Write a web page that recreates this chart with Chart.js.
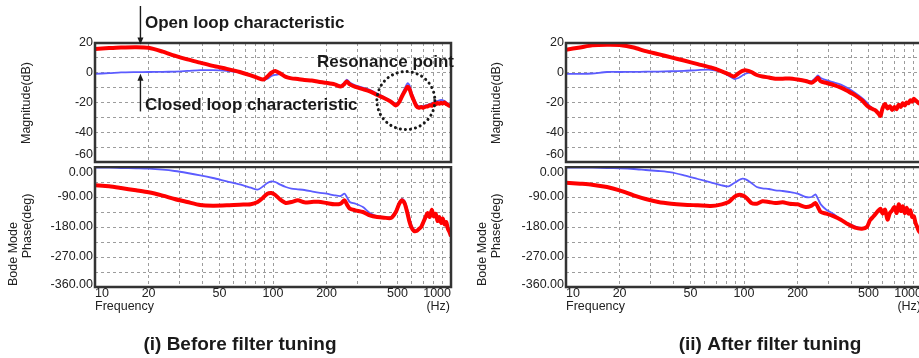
<!DOCTYPE html>
<html>
<head>
<meta charset="utf-8">
<script src="https://cdn.jsdelivr.net/npm/chart.js@4.4.0/dist/chart.umd.min.js"></script>
<style>
  html, body { margin: 0; padding: 0; background: #fff; overflow: hidden; }
  body { width: 919px; height: 358px; position: relative; }
  canvas { position: absolute; }
</style>
</head>
<body>
<canvas id="magBefore" width="460" height="166" style="left:0;top:0"></canvas>
<canvas id="phaseBefore" width="460" height="194" style="left:0;top:166px"></canvas>
<canvas id="magAfter" width="470" height="166" style="left:460px;top:0"></canvas>
<canvas id="phaseAfter" width="470" height="194" style="left:460px;top:166px"></canvas>
<script>
// frequency points (Hz) shared by all curves
const freqHz = [10, 12, 14, 17, 20, 24, 28, 33, 39, 46,
  55, 65, 75, 82, 88, 93, 98, 103, 110, 118,
  127, 138, 150, 165, 180, 200, 222, 240, 252, 260,
  270, 290, 320, 350, 385, 420, 460, 490, 510, 530,
  550, 570, 585, 600, 620, 640, 660, 680, 700, 720,
  740, 760, 780, 800, 820, 840, 860, 880, 900, 920,
  940, 960, 980, 1000];

// (i) before filter tuning
const openMagBefore = [16, 16.6, 17, 17.2, 16.8, 14.2, 11.5, 9, 6.8, 4.6,
  2.6, 0.5, -1.8, -3.5, -4.6, -2.5, 0, 1.2, -0.5, -2.8,
  -3.8, -4.2, -4.8, -5.2, -6, -6.8, -7.8, -9.3, -7.5, -5.8,
  -7.8, -9.5, -11, -12.5, -15, -17, -19.5, -22, -20, -16,
  -12.5, -9.5, -11, -15, -19, -22.5, -23.5, -23, -23.5, -22.8,
  -22.6, -21.8, -22.2, -20.8, -21.2, -20.4, -20.8, -20.2, -20.6, -20,
  -21, -21.5, -22.3, -22];
const closedMagBefore = [-0.7, -0.3, 0.2, 0.4, 0.5, 0.6, 0.8, 1.2, 1.8, 1.7,
  1.2, 0.3, -1.8, -3.7, -5, -4, -2.2, -1.5, -1, -2.8,
  -3.8, -4.2, -4.8, -5.2, -6, -6.6, -7.4, -8.6, -6.5, -4.6,
  -6.5, -8.5, -10, -11.5, -14, -16.4, -19, -21, -19, -14.5,
  -10.5, -7, -8.5, -13, -17.5, -21, -22.5, -22.5, -22.5, -22,
  -21.5, -21, -20.5, -20, -19.5, -19, -18.5, -18.3, -18.5, -19,
  -19.8, -20.5, -21.3, -21.5];
const openPhaseBefore = [-55, -58, -63, -70, -76, -86, -96, -105, -114, -116,
  -115, -113, -112, -105, -92, -80, -78, -84, -98, -108,
  -105, -100, -106, -105, -104, -108, -112, -110, -100, -112,
  -125, -130, -135, -145, -150, -152, -153, -135, -112, -100,
  -110, -140, -165, -182, -192, -192, -186, -180, -165, -150,
  -138, -150, -128, -148, -140, -162, -150, -168, -155, -172,
  -165, -185, -195, -208];
const closedPhaseBefore = [-2, -2, -3, -4, -5, -8, -12, -18, -25, -33,
  -43, -52, -62, -68, -58, -48, -43, -45, -53, -60,
  -65, -67, -69, -73, -77, -80, -85, -87, -80, -90,
  -105, -110, -120, -138, -148, -150, -150, -130, -108, -96,
  -103, -130, -155, -175, -188, -190, -188, -182, -170, -155,
  -142, -148, -132, -145, -140, -158, -150, -163, -155, -168,
  -163, -180, -192, -205];

// (ii) after filter tuning
const openMagAfter = [15.5, 17, 18.4, 18.8, 18.6, 17, 14.5, 12.5, 10.3, 8.2,
  5.8, 3.6, 1, -1, -2.5, -0.5, 1.2, 1.6, 0.5, -1.5,
  -2.5, -3.2, -4, -4, -3.8, -4.5, -5.5, -6.7, -5, -3.3,
  -5.8, -6.8, -8.3, -10, -12.5, -15, -18.5, -22, -23.5, -24.5,
  -25.5, -27.5, -29, -24, -21, -24, -22.5, -25, -23, -24.5,
  -21.5, -23, -20.5, -22, -20, -20.5, -18.5, -19.5, -17.5, -18.5,
  -19.5, -20.5, -21, -21.5];
const closedMagAfter = [-0.7, -0.7, -0.5, 0.5, 0.5, 0.6, 0.7, 0.8, 1, 1.3,
  1.8, 2, 0.5, -2, -4.2, -3.5, -1.8, -0.5, 0, -1.5,
  -2.5, -3.2, -4, -4, -3.8, -4.3, -5, -5.6, -3.5, -1.8,
  -3.5, -5, -6.5, -8, -10.5, -13.5, -17, -20, -22.5, -24,
  -25, -26.5, -27.5, -24, -21.5, -23.5, -22.5, -24, -23, -23.5,
  -22, -22.5, -21, -21.5, -20.3, -20, -19, -19, -18, -18.5,
  -19.5, -20.5, -21, -21.5];
const openPhaseAfter = [-47, -50, -53, -60, -70, -85, -96, -105, -110, -113,
  -115, -117, -112, -105, -90, -84, -85, -92, -108, -110,
  -103, -105, -108, -106, -110, -112, -120, -116, -108, -120,
  -135, -140, -148, -158, -172, -182, -185, -180, -160, -150,
  -140, -130, -125, -140, -128, -158, -138, -130, -120, -138,
  -112, -132, -118, -138, -122, -140, -130, -150, -148, -168,
  -180, -192, -198, -205];
const closedPhaseAfter = [-2, -2, -2, -3, -4, -6, -9, -12, -16, -25,
  -36, -46, -55, -58, -48, -40, -35, -38, -48, -60,
  -64, -66, -70, -72, -75, -80, -90, -90, -82, -95,
  -112, -128, -142, -158, -170, -178, -183, -180, -160, -150,
  -140, -130, -125, -140, -128, -158, -138, -130, -120, -138,
  -112, -132, -118, -138, -122, -140, -130, -150, -148, -168,
  -180, -192, -198, -205];

// axis ticks
const gridFreqs = [10, 20, 30, 40, 50, 60, 70, 80, 90, 100, 200, 300, 400, 500, 600, 700, 800, 900, 1000];
const freqLabels = [10, 20, 50, 100, 200, 500, 1000];
const magTicks = [20, 0, -20, -40, -60];
const phaseTicks = [0, -90, -180, -270, -360];

const FONT = '"Liberation Sans", Arial, sans-serif';

function vText(ctx, txt, x, y) {
  ctx.save();
  ctx.translate(x, y);
  ctx.rotate(-Math.PI / 2);
  ctx.textAlign = 'center';
  ctx.textBaseline = 'middle';
  ctx.fillText(txt, 0, 0);
  ctx.restore();
}

function arrow(ctx, x, y0, y1) {
  const dir = y1 > y0 ? 1 : -1;
  ctx.beginPath();
  ctx.moveTo(x, y0);
  ctx.lineTo(x, y1 - dir * 5);
  ctx.stroke();
  ctx.beginPath();
  ctx.moveTo(x, y1);
  ctx.lineTo(x - 3, y1 - dir * 7);
  ctx.lineTo(x + 3, y1 - dir * 7);
  ctx.closePath();
  ctx.fill();
}

// frame, tick labels, titles and notes
const bodeDeco = {
  id: 'bode',
  afterDatasetsDraw(chart, args, o) {
    const ctx = chart.ctx, a = chart.chartArea;
    const xs = chart.scales.x, ys = chart.scales.y;
    ctx.save();
    ctx.strokeStyle = '#333';
    ctx.lineWidth = 2.5;
    ctx.strokeRect(a.left, a.top, a.right - a.left, a.bottom - a.top);

    ctx.fillStyle = '#222';
    ctx.font = '12.5px ' + FONT;
    ctx.textAlign = 'right';
    ctx.textBaseline = 'middle';
    const ticks = o.kind === 'mag' ? magTicks : phaseTicks;
    ticks.forEach((v, i) => {
      let y = ys.getPixelForValue(v);
      if (o.kind === 'phase' && i === 0) y += 6;
      if (i === ticks.length - 1) y -= (o.kind === 'mag' ? 7 : 2);
      ctx.fillText(o.kind === 'phase' ? v.toFixed(2) : String(v), a.left - 2, y);
    });

    if (o.kind === 'mag') {
      vText(ctx, 'Magnitude(dB)', o.titleX, 103);
    } else {
      vText(ctx, 'Bode Mode', o.titleX - 14, 88);
      vText(ctx, 'Phase(deg)', o.titleX, 60);
      freqLabels.forEach((f, i) => {
        ctx.textAlign = i === 0 ? 'left' : (i === freqLabels.length - 1 ? 'right' : 'center');
        ctx.fillText(String(f), xs.getPixelForValue(f), a.bottom + 7);
      });
      ctx.textAlign = 'left';
      ctx.fillText('Frequency', a.left, a.bottom + 20);
      ctx.textAlign = 'right';
      ctx.fillText('(Hz)', a.right - 1, a.bottom + 20);

      ctx.fillStyle = '#1a1a1a';
      ctx.font = 'bold 19px ' + FONT;
      ctx.textAlign = 'center';
      ctx.fillText(o.caption, o.captionX, 179);
    }

    if (o.notes) {
      ctx.fillStyle = '#1a1a1a';
      ctx.strokeStyle = '#1a1a1a';
      ctx.font = 'bold 17px ' + FONT;
      ctx.textAlign = 'left';
      ctx.fillText('Open loop characteristic', 145, 23);
      ctx.fillText('Closed loop characteristic', 145, 105);
      ctx.fillText('Resonance point', 317, 62);
      ctx.lineWidth = 1.4;
      const ax = xs.getPixelForValue(18);
      arrow(ctx, ax, 6, ys.getPixelForValue(19));
      arrow(ctx, ax, ys.getPixelForValue(-26), ys.getPixelForValue(0) + 1);
      // dotted circle round the resonance peak
      ctx.beginPath();
      ctx.setLineDash([0.1, 5]);
      ctx.lineCap = 'round';
      ctx.lineWidth = 3;
      ctx.arc(xs.getPixelForValue(558), ys.getPixelForValue(-18.7), 29, 0, Math.PI * 2);
      ctx.stroke();
    }
    ctx.restore();
  }
};

function pts(vals) {
  return freqHz.map((f, i) => ({ x: f, y: vals[i] }));
}

function bodeChart(id, open, closed, kind, deco, padLeft, padRight) {
  const isMag = kind === 'mag';
  const grid = { color: '#9c9c9c', lineWidth: 1, drawTicks: false };
  const border = { display: false, dash: [3, 3] };
  return new Chart(document.getElementById(id), {
    type: 'line',
    data: {
      datasets: [
        { data: pts(open), borderColor: '#ff0000', borderWidth: 4, order: 0 },
        { data: pts(closed), borderColor: '#5c5cff', borderWidth: 1.8, order: 1 }
      ]
    },
    options: {
      responsive: false,
      animation: false,
      events: [],
      elements: { point: { radius: 0 }, line: { tension: 0.25 } },
      layout: {
        padding: isMag
          ? { left: padLeft, right: padRight, top: 43, bottom: 4 }
          : { left: padLeft, right: padRight, top: 1, bottom: 73 }
      },
      scales: {
        x: {
          type: 'logarithmic', min: 10, max: 1000,
          ticks: { display: false }, grid: grid, border: border,
          afterBuildTicks: s => { s.ticks = gridFreqs.map(v => ({ value: v })); },
          afterFit: s => { s.height = 0; }
        },
        y: {
          type: 'linear',
          min: isMag ? -60 : -360, max: isMag ? 20 : 0,
          ticks: { display: false, stepSize: isMag ? 10 : 45 },
          grid: grid, border: border,
          afterFit: s => { s.width = 0; }
        }
      },
      plugins: {
        legend: { display: false },
        tooltip: { enabled: false },
        bode: Object.assign({ kind: kind }, deco)
      }
    },
    plugins: [bodeDeco]
  });
}

bodeChart('magBefore', openMagBefore, closedMagBefore, 'mag', { titleX: 27, notes: true }, 95, 9);
bodeChart('phaseBefore', openPhaseBefore, closedPhaseBefore, 'phase',
  { titleX: 28, caption: '(i) Before filter tuning', captionX: 240 }, 95, 9);
bodeChart('magAfter', openMagAfter, closedMagAfter, 'mag', { titleX: 37 }, 106, 8);
bodeChart('phaseAfter', openPhaseAfter, closedPhaseAfter, 'phase',
  { titleX: 37, caption: '(ii) After filter tuning', captionX: 310 }, 106, 8);
</script>
</body>
</html>
